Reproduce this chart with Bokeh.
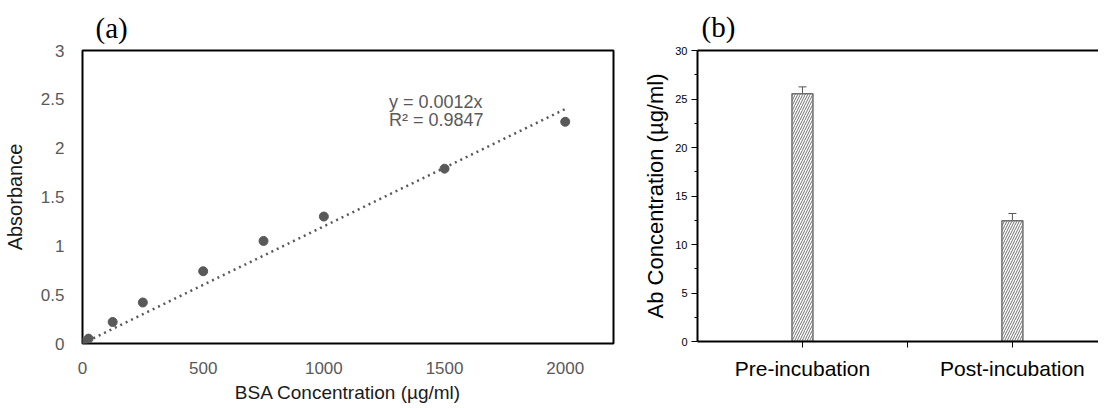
from bokeh.plotting import figure
from bokeh.layouts import row
from bokeh.models import (Range1d, FixedTicker, NumeralTickFormatter, Label, Title,
                          Whisker, TeeHead, ColumnDataSource, LinearAxis)
from bokeh.embed import file_html
from bokeh.resources import INLINE

# ---------- data (a) ----------
bsa_conc = [0, 25, 125, 250, 500, 750, 1000, 1500, 2000]
absorbance = [0.01, 0.05, 0.22, 0.42, 0.74, 1.05, 1.30, 1.79, 2.27]
fit_slope = 0.0012
fit_r2 = 0.9847
a_x_ticks = [0, 500, 1000, 1500, 2000]
a_y_ticks = [0, 0.5, 1, 1.5, 2, 2.5, 3]

# ---------- data (b) ----------
categories = ["Pre-incubation", "Post-incubation"]
ab_conc = [25.55, 12.45]
ab_err = [0.7, 0.75]
b_y_ticks = [0, 5, 10, 15, 20, 25, 30]

SANS = "Liberation Sans"
SERIF = "Liberation Serif"
GREY = "#595959"

# ---------- panel (a) ----------
p1 = figure(frame_width=531, frame_height=293, x_range=Range1d(0, 2200), y_range=Range1d(0, 3),
            output_backend="svg", toolbar_location=None,
            min_border_left=74, min_border_right=17, min_border_top=43, min_border_bottom=48)
p1.grid.visible = False
p1.outline_line_color = "black"
p1.outline_line_width = 2
p1.background_fill_color = "white"

fit_x = [0, max(bsa_conc)]
fit_y = [fit_slope * v for v in fit_x]
p1.line(fit_x, fit_y, line_color=GREY, line_width=2.5, line_dash="2 4")
p1.scatter(bsa_conc, absorbance, size=9, fill_color=GREY, line_color=GREY)

for ax in (p1.xaxis[0], p1.yaxis[0]):
    ax.axis_line_color = None
    ax.major_tick_line_color = None
    ax.minor_tick_line_color = None
    ax.major_label_text_color = GREY
    ax.major_label_text_font = SANS
    ax.major_label_text_font_size = "17px"
    ax.axis_label_text_font = SANS
    ax.axis_label_text_font_style = "normal"
    ax.axis_label_text_color = "#1a1a1a"

p1.xaxis.ticker = FixedTicker(ticks=a_x_ticks)
p1.yaxis.ticker = FixedTicker(ticks=a_y_ticks)
p1.yaxis.formatter = NumeralTickFormatter(format="0.[0]")
p1.xaxis.major_label_standoff = 12
p1.yaxis.major_label_standoff = 12
p1.yaxis.axis_label = "Absorbance"
p1.yaxis.axis_label_text_font_size = "20px"
p1.yaxis.axis_label_standoff = 12

# x-axis title as a title panel below the axis
p1.add_layout(Title(text="BSA Concentration (µg/ml)", text_font=SANS,
                    text_font_size="19px", text_font_style="normal",
                    text_color="#1a1a1a", align="center", standoff=7), "below")

p1.add_layout(Label(x=1270, y=2.47, text=f"y = {fit_slope}x", text_font=SANS,
                    text_font_size="18px", text_color=GREY, text_baseline="middle"))
p1.add_layout(Label(x=1270, y=2.29, text=f"R² = {fit_r2}", text_font=SANS,
                    text_font_size="18px", text_color=GREY, text_baseline="middle"))

p1.add_layout(Title(text="(a)", text_font=SERIF, text_font_size="29px",
                    text_font_style="normal", align="left", offset=13, standoff=14,
                    text_color="black"), "above")

# ---------- panel (b) ----------
xs = list(range(1, len(categories) + 1))
p2 = figure(frame_width=401, frame_height=291, x_range=Range1d(0.5, 2.41), y_range=Range1d(0, 30),
            output_backend="svg", toolbar_location=None,
            min_border_left=67, min_border_right=0, min_border_top=46, min_border_bottom=50)
p2.grid.visible = False
p2.outline_line_color = None

src = ColumnDataSource(dict(x=xs, top=ab_conc,
                            upper=[v + e for v, e in zip(ab_conc, ab_err)],
                            lower=[v - e for v, e in zip(ab_conc, ab_err)]))
p2.vbar(x="x", top="top", width=0.1, bottom=0, source=src, fill_color="white",
        line_color="#707070", line_width=1.5, hatch_pattern="/", hatch_color="#707070",
        hatch_scale=5, hatch_weight=1)
p2.add_layout(Whisker(base="x", upper="upper", lower="lower", source=src,
                      line_color="#555555", line_width=1,
                      upper_head=TeeHead(size=8, line_color="#555555", line_width=1),
                      lower_head=TeeHead(size=8, line_color="#555555", line_width=1)))

# top border line
top_axis = LinearAxis(axis_line_color="black", axis_line_width=2,
                      major_tick_line_color=None, minor_tick_line_color=None,
                      major_label_text_font_size="0px", major_label_text_color=None,
                      ticker=FixedTicker(ticks=[]))
p2.add_layout(top_axis, "above")

bottom_axis = p2.below[0]
bottom_axis.ticker = FixedTicker(ticks=[1, 1.5, 2])
bottom_axis.major_label_overrides = {1: categories[0], 1.5: "", 2: categories[1]}
left_axis = p2.left[0]
left_axis.ticker = FixedTicker(ticks=b_y_ticks, minor_ticks=[2.5, 7.5, 12.5, 17.5, 22.5, 27.5])

for ax in (bottom_axis, left_axis):
    ax.axis_line_color = "black"
    ax.axis_line_width = 2
    ax.major_tick_line_color = "black"
    ax.major_tick_in = 0
    ax.major_tick_out = 6
    ax.minor_tick_line_color = "black"
    ax.minor_tick_in = 0
    ax.minor_tick_out = 3
    ax.major_label_text_color = "black"
    ax.major_label_text_font = SANS
    ax.axis_label_text_font = SANS
    ax.axis_label_text_font_style = "normal"
    ax.axis_label_text_color = "black"

bottom_axis.major_label_text_font_size = "21px"
bottom_axis.major_label_standoff = 9
left_axis.major_label_text_font_size = "11px"
left_axis.major_label_standoff = 4
left_axis.axis_label = "Ab Concentration (µg/ml)"
left_axis.axis_label_text_font_size = "22px"
left_axis.axis_label_standoff = 4

p2.add_layout(Title(text="(b)", text_font=SERIF, text_font_size="29px",
                    text_font_style="normal", align="left", offset=4, standoff=16,
                    text_color="black"), "above")

layout = row(p1, p2)
open("out.html", "w").write(file_html(layout, INLINE))
